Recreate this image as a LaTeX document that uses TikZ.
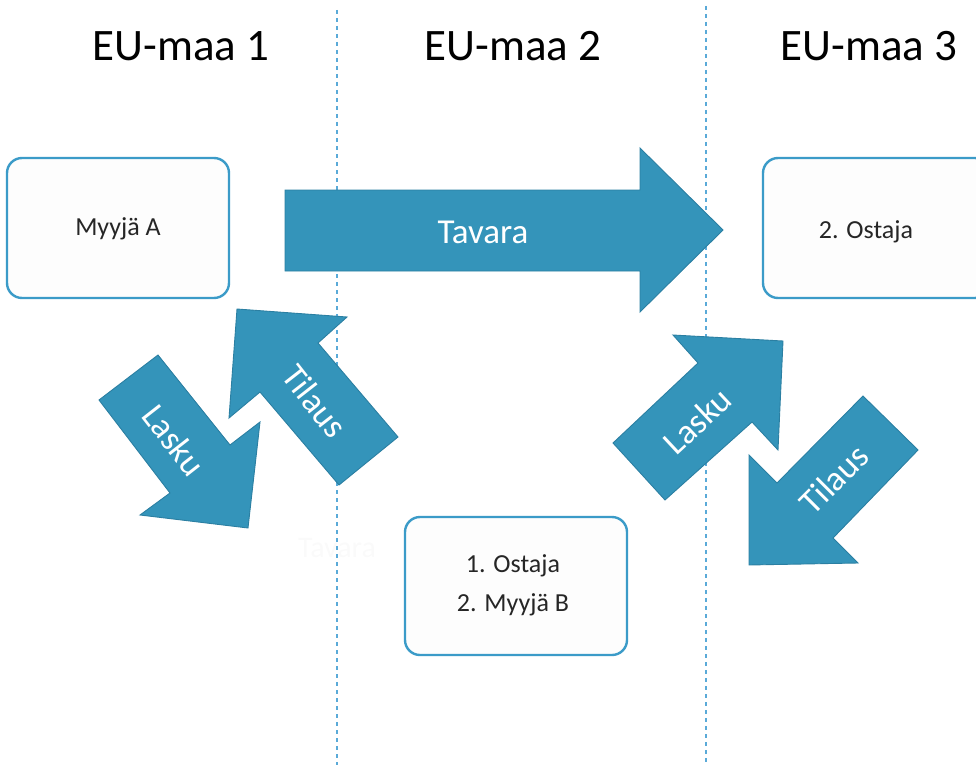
\documentclass[tikz,border=0pt]{standalone}
\usepackage{fontspec}
\setmainfont{Carlito}
\definecolor{arrowfill}{HTML}{3494BA}
\definecolor{arrowedge}{HTML}{2B7FA2}
\definecolor{boxedge}{HTML}{3B9BC8}
\definecolor{boxfill}{HTML}{FDFDFD}
\definecolor{divider}{HTML}{5AAAD8}
\tikzset{
  blockarrow/.style={fill=arrowfill, draw=arrowedge, line width=0.9pt, line join=miter},
  arrowlabel/.style={text=white, font=\fontsize{35}{40}\selectfont, inner sep=0pt},
  partybox/.style={draw=boxedge, fill=boxfill, line width=2.4pt, rounded corners=15pt},
  partytext/.style={font=\fontsize{26}{39}\selectfont, align=center, text=black!85},
  countrytitle/.style={font=\fontsize{45}{50}\selectfont, text=black},
  dividerline/.style={draw=divider, line width=1.1pt, dash pattern=on 4pt off 4pt}
}
\begin{document}
\begin{tikzpicture}[x=1pt, y=-1pt]
\useasboundingbox (0,0) rectangle (976,765);
\clip (0,0) rectangle (976,765);

% country dividers
\coordinate (d1top) at (337,10);
\coordinate (d1bot) at (337,765);
\coordinate (d2top) at (706,6);
\coordinate (d2bot) at (706,765);
\draw[dividerline] (d1top) -- (d1bot);
\draw[dividerline] (d2top) -- (d2bot);

% country headings
\node[countrytitle] (t1) at (181,46) {EU-maa 1};
\node[countrytitle] (t2) at (513,46) {EU-maa 2};
\node[countrytitle] (t3) at (869,46) {EU-maa 3};

% parties
\draw[partybox] (7,158) rectangle (229,298);
\node[partytext] (myyjaA) at (118,229) {Myyjä A};

\draw[partybox] (763,158) rectangle (990,298);
\node[partytext] (ostaja2) at (866,232) {2. Ostaja};

\draw[partybox] (405,517) rectangle (627,655);
\node[partytext] (valittaja) at (513,585) {1. Ostaja\\2. Myyjä B};

% faint leftover label, almost white
\node[font=\fontsize{30}{36}\selectfont, text=black!2] (ghost) at (337,548) {Tavara};

% goods flow
\draw[blockarrow] (285,190) -- (640,190) -- (640,148) -- (723,230)
  -- (640,312) -- (640,271) -- (285,271) -- cycle;
\node[arrowlabel] (tavara) at (483,232) {Tavara};

% invoice and order between country 1 and country 2
\draw[blockarrow] (99,400) -- (158,355) -- (230,445) -- (260,422)
  -- (248,528) -- (140,515) -- (170,493) -- cycle;
\node[arrowlabel, rotate=-52] (lasku1) at (174,440) {Lasku};

\draw[blockarrow] (237,309) -- (347,317) -- (318,343) -- (398,437)
  -- (339,485) -- (260,392) -- (229,418) -- cycle;
\node[arrowlabel, rotate=-52] (tilaus1) at (315,401) {Tilaus};

% invoice and order between country 2 and country 3
\draw[blockarrow] (613,443) -- (665,500) -- (752,422) -- (778,450)
  -- (783,341) -- (673,335) -- (698,363) -- cycle;
\node[arrowlabel, rotate=43] (lasku2) at (697,421) {Lasku};

\draw[blockarrow] (863,396) -- (918,450) -- (833,538) -- (858,563)
  -- (749,565) -- (749,455) -- (777,483) -- cycle;
\node[arrowlabel, rotate=45] (tilaus2) at (834,479) {Tilaus};
\end{tikzpicture}
\end{document}
